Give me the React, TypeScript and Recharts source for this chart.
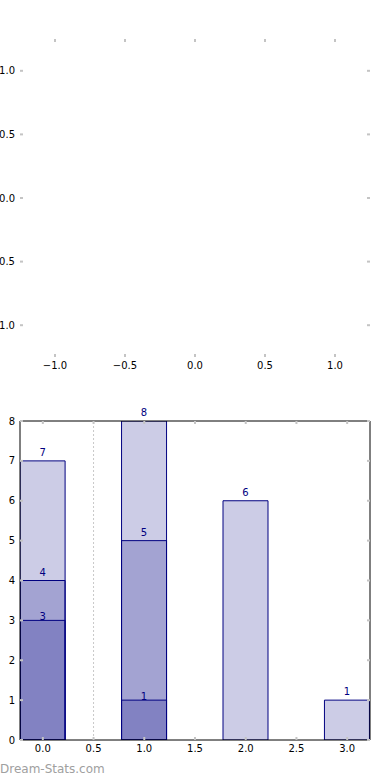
import React from 'react';
import {
  ScatterChart, Scatter, BarChart, Bar, XAxis, YAxis, ReferenceLine, LabelList,
} from 'recharts';

// top (empty) axes
const topTicks = [-1, -0.5, 0, 0.5, 1];

// bottom bar chart
const positions = [0, 1, 2, 3];
const outerValues = [7, 8, 6, 1];
const middleValues = [4, 5, null, null];
const innerValues = [3, 1, null, null];
const xTicks = [0, 0.5, 1, 1.5, 2, 2.5, 3];
const yTicks = [0, 1, 2, 3, 4, 5, 6, 7, 8];

const barData = positions.map((x, i) => ({
  x,
  outer: outerValues[i],
  middle: middleValues[i],
  inner: innerValues[i],
}));

const NAVY = '#000080';
const TICK_GRAY = '#c4c4c4';
const FONT = 'DejaVu Sans, sans-serif';
const tickStyle = { fontSize: 10, fill: '#000', fontFamily: FONT };
const tickLine = { stroke: TICK_GRAY, strokeWidth: 2 };
const blank = () => '';

const fmtSigned = (v: number) => (v < 0 ? '\u2212' : '') + Math.abs(v).toFixed(1);

export default function App() {
  return (
    <div style={{ position: 'absolute', left: 0, top: 0, width: 390, height: 780, background: '#fff' }}>
      {/* empty axes panel */}
      <div style={{ position: 'absolute', left: 0, top: 0 }}>
        <ScatterChart width={390} height={390} margin={{ top: 38, right: 0, bottom: 0, left: 0 }}>
          <XAxis
            xAxisId="b"
            type="number"
            dataKey="x"
            orientation="bottom"
            domain={[-1.25, 1.25]}
            allowDataOverflow
            ticks={topTicks}
            interval={0}
            height={33}
            axisLine={false}
            tickLine={tickLine}
            tickSize={-3}
            tickMargin={8}
            tick={tickStyle}
            tickFormatter={fmtSigned}
          />
          <XAxis
            xAxisId="t"
            type="number"
            dataKey="x"
            orientation="top"
            domain={[-1.25, 1.25]}
            allowDataOverflow
            ticks={topTicks}
            interval={0}
            height={1}
            axisLine={false}
            tickLine={tickLine}
            tickSize={-3}
            tick={tickStyle}
            tickFormatter={blank}
          />
          <YAxis
            yAxisId="l"
            type="number"
            dataKey="y"
            orientation="left"
            domain={[-1.25, 1.25]}
            allowDataOverflow
            ticks={topTicks}
            interval={0}
            width={20}
            axisLine={false}
            tickLine={tickLine}
            tickSize={-3}
            tickMargin={8}
            tick={tickStyle}
            tickFormatter={fmtSigned}
          />
          <YAxis
            yAxisId="r"
            type="number"
            dataKey="y"
            orientation="right"
            domain={[-1.25, 1.25]}
            allowDataOverflow
            ticks={topTicks}
            interval={0}
            width={20}
            axisLine={false}
            tickLine={tickLine}
            tickSize={-3}
            tick={tickStyle}
            tickFormatter={blank}
          />
          <Scatter xAxisId="b" yAxisId="l" data={[]} isAnimationActive={false} />
        </ScatterChart>
      </div>

      {/* overlapping bars panel */}
      <div style={{ position: 'absolute', left: 0, top: 380 }}>
        <BarChart
          width={390}
          height={400}
          data={barData}
          margin={{ top: 40, right: 0, bottom: 0, left: 0 }}
          barGap={-45}
        >
          <XAxis
            xAxisId="b"
            type="number"
            dataKey="x"
            orientation="bottom"
            domain={[-0.225, 3.225]}
            allowDataOverflow
            ticks={xTicks}
            interval={0}
            height={40}
            axisLine={{ stroke: '#000', strokeWidth: 1 }}
            tickLine={tickLine}
            tickSize={-3}
            tickMargin={8}
            tick={tickStyle}
            tickFormatter={(v: number) => v.toFixed(1)}
          />
          <XAxis
            xAxisId="t"
            type="number"
            dataKey="x"
            orientation="top"
            domain={[-0.225, 3.225]}
            allowDataOverflow
            ticks={xTicks}
            interval={0}
            height={1}
            axisLine={{ stroke: '#000', strokeWidth: 1 }}
            tickLine={tickLine}
            tickSize={-3}
            tick={tickStyle}
            tickFormatter={blank}
          />
          <YAxis
            yAxisId="l"
            type="number"
            orientation="left"
            domain={[0, 8]}
            allowDataOverflow
            ticks={yTicks}
            interval={0}
            width={20}
            axisLine={{ stroke: '#000', strokeWidth: 1 }}
            tickLine={tickLine}
            tickSize={-3}
            tickMargin={8}
            tick={tickStyle}
          />
          <YAxis
            yAxisId="r"
            type="number"
            orientation="right"
            domain={[0, 8]}
            allowDataOverflow
            ticks={yTicks}
            interval={0}
            width={20}
            axisLine={{ stroke: '#000', strokeWidth: 1 }}
            tickLine={tickLine}
            tickSize={-3}
            tick={tickStyle}
            tickFormatter={blank}
          />
          <ReferenceLine
            xAxisId="b"
            yAxisId="l"
            x={0.5}
            stroke="#c8c8c8"
            strokeDasharray="2 2"
          />
          <Bar xAxisId="b" yAxisId="l" dataKey="outer" barSize={45} fill={NAVY} fillOpacity={0.2} stroke={NAVY} strokeWidth={1} isAnimationActive={false}>
            <LabelList dataKey="outer" position="top" offset={5} fill={NAVY} fontSize={10} fontFamily={FONT} />
          </Bar>
          <Bar xAxisId="b" yAxisId="l" dataKey="middle" barSize={45} fill={NAVY} fillOpacity={0.2} stroke={NAVY} strokeWidth={1} isAnimationActive={false}>
            <LabelList dataKey="middle" position="top" offset={5} fill={NAVY} fontSize={10} fontFamily={FONT} />
          </Bar>
          <Bar xAxisId="b" yAxisId="l" dataKey="inner" barSize={45} fill={NAVY} fillOpacity={0.2} stroke={NAVY} strokeWidth={1} isAnimationActive={false}>
            <LabelList dataKey="inner" position="top" offset={0} fill={NAVY} fontSize={10} fontFamily={FONT} />
          </Bar>
        </BarChart>
      </div>

      <div
        style={{
          position: 'absolute', left: 0, top: 762, fontFamily: FONT, fontSize: 12,
          color: '#a0a0a0', lineHeight: '14px', whiteSpace: 'nowrap',
        }}
      >
        Dream-Stats.com
      </div>
    </div>
  );
}
